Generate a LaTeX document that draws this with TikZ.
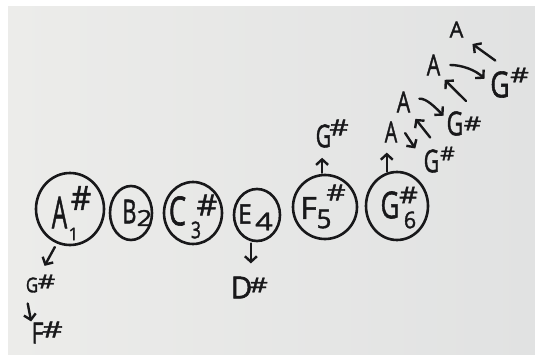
\documentclass[tikz,border=0pt]{standalone}
\usepackage{fontspec}
\usepackage{graphicx}
\setmainfont[FakeBold=1.6]{Open Sans}
\usetikzlibrary{arrows.meta,shapes.geometric}
\definecolor{ink}{RGB}{24,24,26}
\definecolor{paperL}{RGB}{236,236,234}
\definecolor{paperR}{RGB}{225,226,226}
% glyph at a given size, squeezed or widened horizontally like hand lettering
\newcommand{\gl}[3]{\fontsize{#1}{#1}\selectfont\scalebox{#2}[1]{#3}}

\begin{document}
\begin{tikzpicture}[x=1pt,y=1pt,
  note/.style={ellipse, draw=ink, line width=2.6pt, inner sep=0pt},
  glyph/.style={inner sep=0pt, text=ink},
  arr/.style={draw=ink, line width=2.4pt, line cap=round, line join=round,
              -{Straight Barb[length=5.5pt,width=12pt]}},
]
\useasboundingbox (0,0) rectangle (535,354);
\fill[white] (0,0) rectangle (535,354);
\shade[left color=paperL, right color=paperR] (8,0) rectangle (535,347);

% the six circled notes of the scale
\node[note, minimum width=68pt, minimum height=72pt] (a1) at (70,145) {};
\node[note, minimum width=42pt, minimum height=54pt] (b2) at (131,141) {};
\node[note, minimum width=58pt, minimum height=62pt] (c3) at (193,141) {};
\node[note, minimum width=46pt, minimum height=52pt] (e4) at (257,139) {};
\node[note, minimum width=64pt, minimum height=64pt] (f5) at (325,147) {};
\node[note, minimum width=62pt, minimum height=68pt] (g6) at (397,148) {};

% A1 sharp
\node[glyph] (a1A) at (59.5,141.5) {\gl{44}{0.55}{A}};
\node[glyph] (a1n) at (73.5,120) {\gl{17.5}{1}{1}};
\node[glyph] (a1s) at (81,156) {\gl{33}{0.95}{\#}};
% B2
\node[glyph] (b2B) at (129.5,142.5) {\gl{33}{0.65}{B}};
\node[glyph] (b2n) at (144.5,136) {\gl{22}{1.25}{2}};
% C3 sharp
\node[glyph] (c3C) at (177.5,143) {\gl{40}{0.68}{C}};
\node[glyph] (c3n) at (196,124) {\gl{23}{0.76}{3}};
\node[glyph] (c3s) at (207,149) {\gl{29}{1.1}{\#}};
% E4
\node[glyph] (e4E) at (245,140) {\gl{27}{0.9}{E}};
\node[glyph] (e4n) at (264,132.5) {\gl{24.5}{1.25}{4}};
% F5 sharp
\node[glyph] (f5F) at (308.5,146) {\gl{30.5}{1.05}{F}};
\node[glyph] (f5n) at (324,135) {\gl{26}{1}{5}};
\node[glyph] (f5s) at (336,161.5) {\gl{22}{1.35}{\#}};
% G6 sharp
\node[glyph] (g6G) at (390,149) {\gl{37}{0.7}{G}};
\node[glyph] (g6n) at (410,134) {\gl{23}{0.93}{6}};
\node[glyph] (g6s) at (408.5,159) {\gl{23}{1.25}{\#}};

% neighbouring notes
\node[glyph] (g1G) at (32,69) {\gl{20.5}{0.82}{G}};
\node[glyph] (g1s) at (46.5,72.5) {\gl{19}{1.45}{\#}};
\node[glyph] (f1F) at (37.5,21) {\gl{29}{0.8}{F}};
\node[glyph] (f1s) at (52.5,24.5) {\gl{22}{1.45}{\#}};
\node[glyph] (d4D) at (241.5,66.5) {\gl{30.5}{0.97}{D}};
\node[glyph] (d4s) at (258.5,69) {\gl{20.5}{1.4}{\#}};
\node[glyph] (g5G) at (323.5,218) {\gl{31.5}{0.68}{G}};
\node[glyph] (g5s) at (339,226.5) {\gl{22}{1.35}{\#}};

% trill staircase above G6
\node[glyph] (aa1) at (391,222) {\gl{29}{0.68}{A}};
\node[glyph] (gg1G) at (431.5,193) {\gl{31.5}{0.68}{G}};
\node[glyph] (gg1s) at (447.5,200.5) {\gl{19}{1.2}{\#}};
\node[glyph] (aa2) at (403.5,252) {\gl{29}{0.73}{A}};
\node[glyph] (gg2G) at (455,230.5) {\gl{33}{0.7}{G}};
\node[glyph] (gg2s) at (472.5,230.5) {\gl{19}{1.45}{\#}};
\node[glyph] (aa3) at (433.5,289) {\gl{29}{0.73}{A}};
\node[glyph] (gg3G) at (500,269.5) {\gl{36}{0.74}{G}};
\node[glyph] (gg3s) at (519.5,279) {\gl{20.5}{1.4}{\#}};
\node[glyph] (aa4) at (456.5,324.5) {\gl{22}{0.98}{A}};

% arrows
\draw[arr, shorten <=4pt, shorten >=13pt] (a1.249) -- (g1G.north east);
\draw[arr, shorten <=11pt, shorten >=1pt] (g1G.south west) -- (f1F.north west);
\draw[arr, shorten <=2pt, shorten >=13pt] (e4.257) -- (e4.257 |- d4D.north);
\draw[arr, shorten <=1pt, shorten >=10pt] (f5.95) -- (f5.95 |- g5G.south);
\draw[arr, shorten <=1pt, shorten >=10pt] (g6.107) -- (g6.107 |- aa1.south);
\draw[arr, shorten <=14pt, shorten >=15pt] (aa1.north east) -- (gg1G.west);
\draw[arr, shorten <=15pt, shorten >=8pt] (gg1G.north east) -- (aa2.south east);
\draw[arr, shorten <=9pt, shorten >=4pt] (aa2.20) to[out=5,in=135] (gg2G.150);
\draw[arr, shorten <=22pt, shorten >=6pt] (gg2s.north east) -- (aa3.south east);
\draw[arr, shorten <=10pt, shorten >=8pt] (aa3.east) to[out=0,in=135] (gg3G.west);
\draw[arr, shorten <=18pt, shorten >=11pt] (gg3G.north east) -- (aa4.south east);
\end{tikzpicture}
\end{document}
